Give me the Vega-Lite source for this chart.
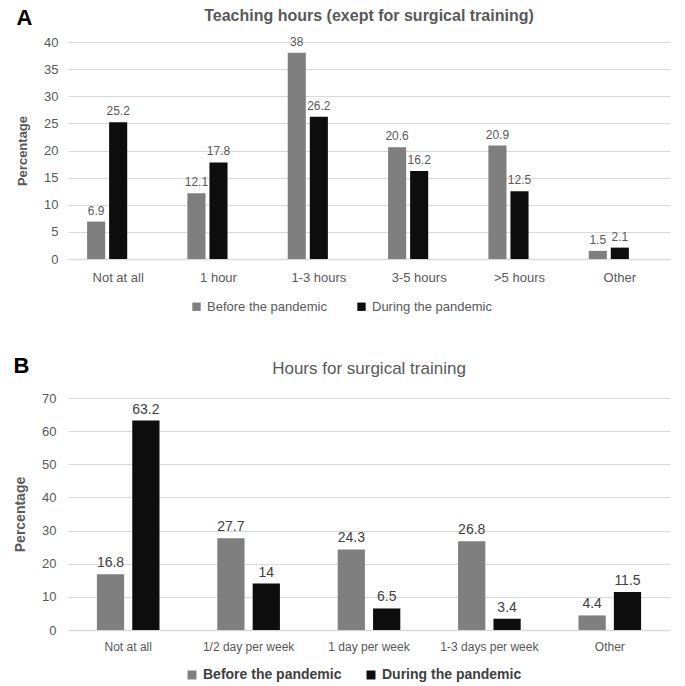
{
  "$schema": "https://vega.github.io/schema/vega-lite/v6.json",
  "background": "white",
  "padding": {"left": 13, "top": 6, "right": 5, "bottom": 2},
  "config": {
    "font": "Liberation Sans",
    "view": {"stroke": null},
    "axis": {"labelColor": "#595959", "titleColor": "#595959", "labelFont": "Liberation Sans", "titleFont": "Liberation Sans"},
    "title": {"color": "#595959"}
  },
  "resolve": {"scale": {"color": "independent", "x": "independent", "y": "independent", "xOffset": "independent"}, "legend": {"color": "independent"}},
  "spacing": 41,
  "vconcat": [
    {
      "title": {"text": "A", "anchor": "start", "fontSize": 22, "fontWeight": "bold", "color": "#000000", "font": "Liberation Sans", "offset": -22, "frame": "bounds"},
      "vconcat": [
        {
          "width": 602,
          "height": 217,
          "title": {"text": "Teaching hours (exept for surgical training)", "fontSize": 16, "fontWeight": "bold", "color": "#595959", "font": "Liberation Sans", "offset": 12, "anchor": "middle"},
          "data": {"values": [
            {"cat": "Not at all", "period": "Before the pandemic", "value": 6.9},
            {"cat": "Not at all", "period": "During the pandemic", "value": 25.2},
            {"cat": "1 hour", "period": "Before the pandemic", "value": 12.1},
            {"cat": "1 hour", "period": "During the pandemic", "value": 17.8},
            {"cat": "1-3 hours", "period": "Before the pandemic", "value": 38},
            {"cat": "1-3 hours", "period": "During the pandemic", "value": 26.2},
            {"cat": "3-5 hours", "period": "Before the pandemic", "value": 20.6},
            {"cat": "3-5 hours", "period": "During the pandemic", "value": 16.2},
            {"cat": ">5 hours", "period": "Before the pandemic", "value": 20.9},
            {"cat": ">5 hours", "period": "During the pandemic", "value": 12.5},
            {"cat": "Other", "period": "Before the pandemic", "value": 1.5},
            {"cat": "Other", "period": "During the pandemic", "value": 2.1}
          ]},
          "encoding": {
            "x": {"field": "cat", "type": "nominal", "sort": null,
              "scale": {"paddingInner": 0.38, "paddingOuter": 0.19},
              "axis": {"title": null, "labelAngle": 0, "labelFontSize": 13, "labelPadding": 12, "ticks": false, "domainColor": "#d9d9d9", "domainWidth": 1.5}},
            "xOffset": {"field": "period", "type": "nominal", "scale": {"domain": ["Before the pandemic", "During the pandemic", "none"], "paddingInner": 0.18, "paddingOuter": 0}},
            "y": {"field": "value", "type": "quantitative",
              "scale": {"domain": [0, 40]},
              "axis": {"title": "Percentage", "titleFontSize": 13, "titleFontWeight": "bold", "titlePadding": 14, "values": [0, 5, 10, 15, 20, 25, 30, 35, 40], "labelFontSize": 13, "labelPadding": 10, "ticks": false, "domain": false, "gridColor": "#d9d9d9", "gridWidth": 1.2}}
          },
          "layer": [
            {"mark": {"type": "bar"},
              "encoding": {"color": {"field": "period", "type": "nominal",
                "scale": {"domain": ["Before the pandemic", "During the pandemic"], "range": ["#7f7f7f", "#0d0d0d"]},
                "legend": {"title": null, "orient": "none", "legendX": 122, "legendY": 258, "direction": "horizontal", "symbolType": "square", "symbolSize": 70, "labelFontSize": 13, "labelColor": "#595959", "labelFont": "Liberation Sans", "columnPadding": 28, "symbolStrokeWidth": 0}}}},
            {"mark": {"type": "text", "baseline": "bottom", "dy": -4, "fontSize": 12, "color": "#595959", "font": "Liberation Sans"},
              "encoding": {"text": {"field": "value", "type": "quantitative"}}}
          ]
        }
      ]
    },
    {
      "title": {"text": "B", "anchor": "start", "fontSize": 22, "fontWeight": "bold", "color": "#000000", "font": "Liberation Sans", "offset": -18, "frame": "bounds"},
      "vconcat": [
        {
          "width": 602,
          "height": 232,
          "title": {"text": "Hours for surgical training", "fontSize": 17, "fontWeight": "normal", "color": "#595959", "font": "Liberation Sans", "offset": 14, "anchor": "middle"},
          "data": {"values": [
            {"cat": "Not at all", "period": "Before the pandemic", "value": 16.8},
            {"cat": "Not at all", "period": "During the pandemic", "value": 63.2},
            {"cat": "1/2 day per week", "period": "Before the pandemic", "value": 27.7},
            {"cat": "1/2 day per week", "period": "During the pandemic", "value": 14},
            {"cat": "1 day per week", "period": "Before the pandemic", "value": 24.3},
            {"cat": "1 day per week", "period": "During the pandemic", "value": 6.5},
            {"cat": "1-3 days per week", "period": "Before the pandemic", "value": 26.8},
            {"cat": "1-3 days per week", "period": "During the pandemic", "value": 3.4},
            {"cat": "Other", "period": "Before the pandemic", "value": 4.4},
            {"cat": "Other", "period": "During the pandemic", "value": 11.5}
          ]},
          "encoding": {
            "x": {"field": "cat", "type": "nominal", "sort": null,
              "scale": {"paddingInner": 0.48, "paddingOuter": 0.24},
              "axis": {"title": null, "labelAngle": 0, "labelFontSize": 12, "labelPadding": 11, "ticks": false, "domainColor": "#d9d9d9", "domainWidth": 1.5}},
            "xOffset": {"field": "period", "type": "nominal", "scale": {"paddingInner": 0.23, "paddingOuter": 0}},
            "y": {"field": "value", "type": "quantitative",
              "scale": {"domain": [0, 70]},
              "axis": {"title": "Percentage", "titleFontSize": 14, "titleFontWeight": "bold", "titlePadding": 14, "values": [0, 10, 20, 30, 40, 50, 60, 70], "labelFontSize": 13, "labelPadding": 12, "ticks": false, "domain": false, "gridColor": "#d9d9d9", "gridWidth": 1.2}}
          },
          "layer": [
            {"mark": {"type": "bar"},
              "encoding": {"color": {"field": "period", "type": "nominal",
                "scale": {"domain": ["Before the pandemic", "During the pandemic"], "range": ["#7f7f7f", "#0d0d0d"]},
                "legend": {"title": null, "orient": "none", "legendX": 117, "legendY": 270, "direction": "horizontal", "symbolType": "square", "symbolSize": 80, "labelFontSize": 14, "labelFontWeight": "bold", "labelColor": "#404040", "labelFont": "Liberation Sans", "columnPadding": 22, "symbolStrokeWidth": 0}}}},
            {"mark": {"type": "text", "baseline": "bottom", "dy": -4, "fontSize": 14, "color": "#404040", "font": "Liberation Sans"},
              "encoding": {"text": {"field": "value", "type": "quantitative"}}}
          ]
        }
      ]
    }
  ]
}
